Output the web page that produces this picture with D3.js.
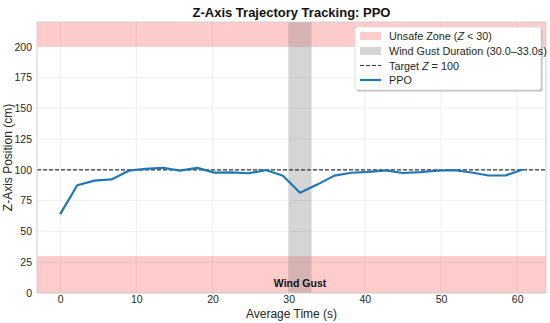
<!DOCTYPE html>
<html>
<head>
<meta charset="utf-8">
<script src="https://cdn.jsdelivr.net/npm/d3@7"></script>
<style>
  body { margin: 0; background: #fff; }
  svg { font-family: "Liberation Sans", Arial, sans-serif; }
</style>
</head>
<body>
<div id="chart"></div>
<script>
// values
var times = [0, 2.25, 4.5, 6.75, 9, 11.25, 13.5, 15.75, 18, 20.25, 22.5, 24.75, 27, 29.25,
             31.5, 33.75, 36, 38.25, 40.5, 42.75, 45, 47.25, 49.5, 51.75, 54, 56.25, 58.5, 60.75];
var zPos = [64, 87.5, 91.2, 92.2, 99.3, 100.8, 101.7, 99.4, 101.6, 97.7, 98, 97.2, 99.8, 95.2,
            81.4, 88, 95.3, 97.6, 98.3, 99.6, 97.4, 98.2, 99.4, 99.8, 97.8, 95.4, 95.5, 100.3];
var xTicks = [0, 10, 20, 30, 40, 50, 60];
var yTicks = [0, 25, 50, 75, 100, 125, 150, 175, 200];
var target = 100;
var unsafeLow = [0, 30];
var unsafeHigh = [200, 220];
var gust = [30, 33];

var width = 550, height = 323;
var margin = {left: 37, right: 4, top: 22, bottom: 30};

var svg = d3.select("#chart").append("svg")
    .attr("width", width)
    .attr("height", height);

var x = d3.scaleLinear()
    .domain([-3.04, 63.79])
    .range([margin.left, width - margin.right]);
var y = d3.scaleLinear()
    .domain([0, 220])
    .range([height - margin.bottom, margin.top]);

var x0 = x.range()[0], x1 = x.range()[1];
var yb = y.range()[0], yt = y.range()[1];

// grid
svg.append("g").selectAll("line").data(xTicks).enter().append("line")
    .attr("x1", d => x(d)).attr("x2", d => x(d))
    .attr("y1", yt).attr("y2", yb)
    .attr("stroke", "#ebebeb").attr("stroke-width", 0.8);
svg.append("g").selectAll("line").data(yTicks).enter().append("line")
    .attr("x1", x0).attr("x2", x1)
    .attr("y1", d => y(d)).attr("y2", d => y(d))
    .attr("stroke", "#ebebeb").attr("stroke-width", 0.8);

// unsafe zones
[unsafeLow, unsafeHigh].forEach(function (z) {
    svg.append("rect")
        .attr("x", x0).attr("width", x1 - x0)
        .attr("y", y(z[1])).attr("height", y(z[0]) - y(z[1]))
        .attr("fill", "red").attr("fill-opacity", 0.2);
});

// gust band
svg.append("rect")
    .attr("x", x(gust[0])).attr("width", x(gust[1]) - x(gust[0]))
    .attr("y", yt).attr("height", yb - yt)
    .attr("fill", "gray").attr("fill-opacity", 0.33);

// target line
svg.append("line")
    .attr("x1", x0).attr("x2", x1)
    .attr("y1", y(target)).attr("y2", y(target))
    .attr("stroke", "#333").attr("stroke-width", 1.2)
    .attr("stroke-dasharray", "4,2");

// trajectory
var pts = times.map((t, i) => [t, zPos[i]]);
svg.append("path")
    .datum(pts)
    .attr("fill", "none")
    .attr("stroke", "#1f77b4")
    .attr("stroke-width", 2.2)
    .attr("stroke-linejoin", "round")
    .attr("d", d3.line().x(d => x(d[0])).y(d => y(d[1])));

// frame
svg.append("rect")
    .attr("x", x0).attr("y", yt)
    .attr("width", x1 - x0).attr("height", yb - yt)
    .attr("fill", "none").attr("stroke", "#d0d0d0").attr("stroke-width", 1);

// axes
var xAxis = svg.append("g")
    .attr("transform", "translate(0," + yb + ")")
    .call(d3.axisBottom(x).tickValues(xTicks).tickSize(0).tickPadding(3));
var yAxis = svg.append("g")
    .attr("transform", "translate(" + x0 + ",0)")
    .call(d3.axisLeft(y).tickValues(yTicks).tickSize(0).tickPadding(5));
[xAxis, yAxis].forEach(function (a) {
    a.select(".domain").remove();
    a.selectAll("text").attr("font-size", 10.5).attr("fill", "#262626")
        .attr("font-family", "Liberation Sans, Arial, sans-serif");
});

// labels
svg.append("text")
    .attr("x", (x0 + x1) / 2).attr("y", 17)
    .attr("text-anchor", "middle")
    .attr("font-size", 13).attr("font-weight", "bold").attr("fill", "#111")
    .text("Z-Axis Trajectory Tracking: PPO");
svg.append("text")
    .attr("x", (x0 + x1) / 2).attr("y", 318)
    .attr("text-anchor", "middle")
    .attr("font-size", 12).attr("fill", "#262626")
    .text("Average Time (s)");
svg.append("text")
    .attr("transform", "translate(12," + ((yt + yb) / 2) + ") rotate(-90)")
    .attr("text-anchor", "middle")
    .attr("font-size", 12).attr("fill", "#262626")
    .text("Z-Axis Position (cm)");
svg.append("text")
    .attr("x", x((gust[0] + gust[1]) / 2)).attr("y", 287)
    .attr("text-anchor", "middle")
    .attr("font-size", 10.5).attr("font-weight", "bold").attr("fill", "#111")
    .text("Wind Gust");

// legend
var lg = svg.append("g").attr("transform", "translate(355,27)");
lg.append("rect")
    .attr("x", 1.5).attr("y", 1.5).attr("width", 186).attr("height", 63)
    .attr("rx", 2).attr("fill", "#bbb");
lg.append("rect")
    .attr("width", 186).attr("height", 63).attr("rx", 2)
    .attr("fill", "#fff").attr("stroke", "#d8d8d8").attr("stroke-width", 0.8);

var rowY = [9, 24, 38.5, 53];
lg.append("rect").attr("x", 5).attr("y", rowY[0] - 4).attr("width", 21).attr("height", 8)
    .attr("fill", "red").attr("fill-opacity", 0.2);
lg.append("rect").attr("x", 5).attr("y", rowY[1] - 4).attr("width", 21).attr("height", 8)
    .attr("fill", "gray").attr("fill-opacity", 0.33);
lg.append("line").attr("x1", 5).attr("x2", 26).attr("y1", rowY[2]).attr("y2", rowY[2])
    .attr("stroke", "#333").attr("stroke-width", 1.2).attr("stroke-dasharray", "4,2");
lg.append("line").attr("x1", 5).attr("x2", 26).attr("y1", rowY[3]).attr("y2", rowY[3])
    .attr("stroke", "#1f77b4").attr("stroke-width", 2.2);

function legendText(i, parts) {
    var t = lg.append("text").attr("x", 34).attr("y", rowY[i] + 4)
        .attr("font-size", 10.8).attr("fill", "#262626");
    parts.forEach(function (p) {
        var s = t.append("tspan").text(p[0]);
        if (p[1]) s.attr("font-style", "italic");
    });
}
legendText(0, [["Unsafe Zone ("], ["Z", true], [" < 30)"]]);
legendText(1, [["Wind Gust Duration (30.0\u201333.0s)"]]);
legendText(2, [["Target "], ["Z", true], [" = 100"]]);
legendText(3, [["PPO"]]);
</script>
</body>
</html>
